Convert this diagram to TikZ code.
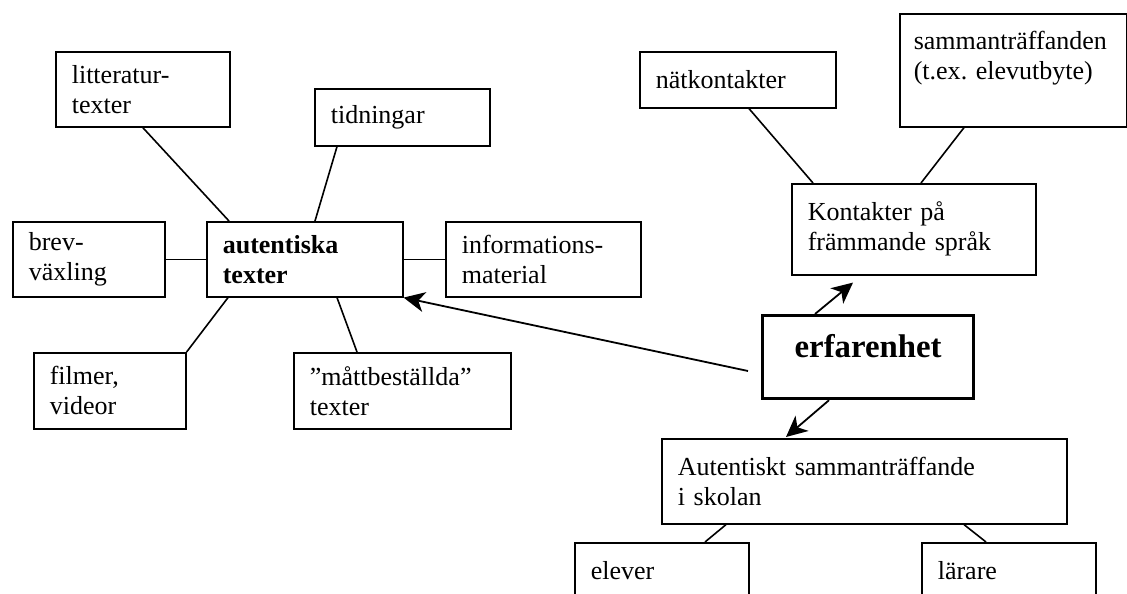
\documentclass[tikz,border=0pt]{standalone}
\usepackage{fontspec}
\setmainfont{Liberation Serif}
\usetikzlibrary{positioning, arrows.meta, calc}
\frenchspacing

\begin{document}
\begin{tikzpicture}[x=0.5pt, y=-0.5pt, font=\fontsize{13}{15}\selectfont,
    card/.style={draw, line width=0.8pt, anchor=north west, align=left,
                 inner xsep=8pt, inner ysep=2pt},
    link/.style={line width=0.8pt},
    arr/.style={line width=0.9pt, -{Stealth[length=10.5pt, width=10pt, inset=3pt]}}]
    \useasboundingbox (0,0) rectangle (1127,593);
    \clip (0,0) rectangle (1127,593);
    \node[card, text width=71pt, minimum height=37.5pt] (litt) at (55,51)
          {litteratur-\\texter};
    \node[card, text width=71.5pt, minimum height=28.5pt] (tid) at (314,88)
          {tidningar};
    \node[card, text width=60pt, minimum height=37.5pt] (brev) at (12,221)
          {brev-\\växling};
    \node[card, text width=82pt, minimum height=37.5pt, font=\fontsize{13}{15}\selectfont\bfseries] (auth) at (206,221)
          {autentiska\\texter};
    \node[card, text width=81.5pt, minimum height=37.5pt] (info) at (445,221)
          {informations-\\material};
    \node[card, text width=60pt, minimum height=38pt] (film) at (33,352)
          {filmer,\\videor};
    \node[card, text width=92.5pt, minimum height=38pt] (matt) at (293,352)
          {”måttbeställda”\\texter};
    \node[card, text width=82pt, minimum height=28pt] (nat) at (639,51)
          {nätkontakter};
    \node[card, inner xsep=7pt, text width=99.5pt, minimum height=56.5pt] (samm) at (899,13)
          {sammanträffanden\\(t.ex. elevutbyte)\\\mbox{}};
    \node[card, text width=106pt, minimum height=45.5pt] (kon) at (791,183)
          {Kontakter på\\främmande språk};
    \node[card, line width=1.6pt, align=center, text width=89.5pt, minimum height=41.5pt,
          text height=11pt, text depth=11pt, font=\fontsize{16.4}{18}\selectfont\bfseries] (erf) at (761,314)
          {erfarenhet};
    \node[card, text width=186.5pt, minimum height=42.5pt] (aut) at (661,438)
          {Autentiskt sammanträffande\\i skolan};
    \node[card, text width=71pt, minimum height=28pt] (elev) at (574,542)
          {elever};
    \node[card, text width=71pt, minimum height=28pt] (lar) at (921,542)
          {lärare};
    \coordinate (erfout) at (748,371);
    \draw[link] (litt.south) -- ($(auth.north west)+(23,0)$);
    \draw[link] ($(tid.south west)+(23,0)$) -- ($(auth.north west)+(109,0)$);
    \draw[link] (brev.east) -- (auth.west);
    \draw[link] (auth.east) -- (info.west);
    \draw[link] ($(auth.south west)+(22,0)$) -- (film.north east);
    \draw[link] ($(auth.south west)+(131,0)$) -- ($(matt.north west)+(64,0)$);
    \draw[link] ($(nat.south west)+(110,0)$) -- ($(kon.north west)+(22,0)$);
    \draw[link] ($(samm.south west)+(65,0)$) -- ($(kon.north west)+(130,0)$);
    \draw[link] ($(aut.south west)+(65,0)$) -- ($(elev.north west)+(131,0)$);
    \draw[link] ($(aut.south west)+(303,0)$) -- ($(lar.north west)+(65,0)$);
    \draw[arr] (erfout) -- (auth.south east);
    \draw[arr] ($(erf.north west)+(54,0)$) -- ($(kon.south west)+(62,7)$);
    \draw[arr] ($(erf.south west)+(68,0)$) -- ($(aut.north west)+(125,-1)$);
\end{tikzpicture}
\end{document}
